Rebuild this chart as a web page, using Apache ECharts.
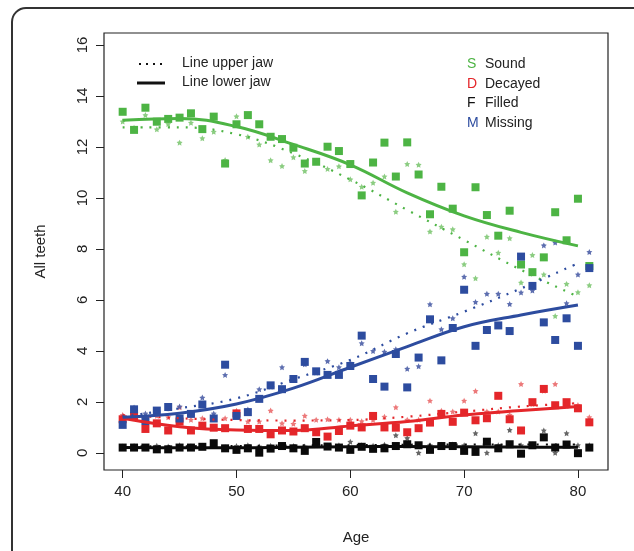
<!DOCTYPE html>
<html>
<head>
<meta charset="utf-8">
<script src="https://cdn.jsdelivr.net/npm/echarts@6.0.0/dist/echarts.min.js"></script>
<style>
  html, body { margin: 0; padding: 0; background: #fff; }
  #chartBox { width: 634px; height: 551px; }
</style>
</head>
<body>
<div id="chartBox"></div>
<script>
// ages 40..81, one point per age per series
const ages = [40,41,42,43,44,45,46,47,48,49,50,51,52,53,54,55,56,57,58,59,60,
  61,62,63,64,65,66,67,68,69,70,71,72,73,74,75,76,77,78,79,80,81];

// squares = lower jaw, stars = upper jaw
const soundLower = [13.38,12.67,13.54,12.99,13.1,13.15,13.32,12.7,13.19,11.35,12.89,13.25,12.89,12.4,12.31,11.97,11.35,11.42,12.01,11.84,11.33,10.1,11.39,12.17,10.84,12.18,10.92,9.36,10.44,9.58,7.87,10.42,9.33,8.52,9.5,7.39,7.09,7.67,9.44,8.34,9.97,7.33];
const soundUpper = [13.0,12.75,13.25,12.69,12.9,12.17,12.95,12.34,12.6,11.49,13.2,12.4,12.1,11.48,11.25,11.6,11.06,11.4,11.14,11.24,10.73,10.44,10.6,10.84,9.46,11.33,11.3,8.68,8.87,8.77,7.4,6.85,8.48,7.85,8.42,6.68,7.76,7.0,5.37,6.63,6.3,6.58];
const decayedLower = [1.32,1.45,0.94,1.16,0.88,1.23,0.88,1.07,0.99,0.97,1.55,0.94,0.94,0.73,0.88,0.84,0.97,0.81,0.64,0.86,1.07,1.0,1.45,1.0,0.99,0.81,0.97,1.19,1.53,1.22,1.58,1.28,1.36,2.24,1.32,0.88,1.99,2.51,1.87,1.99,1.75,1.2];
const decayedUpper = [1.49,1.45,1.36,1.46,1.4,1.79,1.3,1.36,1.39,1.36,1.65,1.23,1.23,1.66,1.16,1.14,1.46,1.3,1.32,1.3,1.3,1.24,1.3,1.42,1.79,1.3,1.3,2.05,1.65,1.62,2.05,2.43,1.62,1.62,1.5,2.7,1.92,2.44,2.7,1.84,1.88,1.4];
const filledLower = [0.21,0.21,0.21,0.14,0.14,0.21,0.21,0.24,0.38,0.18,0.12,0.18,0.01,0.17,0.27,0.18,0.08,0.43,0.25,0.21,0.12,0.24,0.16,0.18,0.27,0.34,0.3,0.12,0.27,0.27,0.08,0.04,0.44,0.18,0.34,-0.03,0.3,0.61,0.21,0.33,-0.01,0.21];
const filledUpper = [0.25,0.27,0.22,0.28,0.25,0.3,0.26,0.28,0.35,0.22,0.27,0.3,0.25,0.28,0.3,0.27,0.25,0.3,0.28,0.3,0.44,0.3,0.28,0.32,0.69,0.58,0.01,0.3,0.32,0.33,0.3,0.77,0.01,0.3,0.9,0.3,0.33,0.88,0.01,0.77,0.3,0.3];
const missingLower = [1.1,1.71,1.25,1.66,1.8,1.35,1.53,1.9,1.35,3.46,1.45,1.6,2.12,2.65,2.5,2.9,3.57,3.2,3.06,3.06,3.41,4.6,2.9,2.6,3.88,2.57,3.74,5.24,3.63,4.9,6.4,4.2,4.82,5.0,4.78,7.7,6.55,5.12,4.43,5.28,4.2,7.25];
const missingUpper = [1.42,1.78,1.55,1.6,1.75,1.82,1.55,2.17,1.55,3.06,1.55,1.7,2.5,2.6,3.36,2.86,3.48,3.15,3.6,3.36,3.54,4.3,4.0,3.97,4.07,3.3,3.4,5.83,4.85,5.28,6.91,5.92,6.24,6.24,5.84,6.29,6.37,8.14,8.25,5.87,7.0,7.88];

// smoothed fit lines, read every 5 years
const fitAges = [40,45,50,55,60,65,70,75,80];
const soundLowerFit = [13.05,13.12,12.8,12.1,11.3,10.2,9.3,8.65,8.12];
const soundUpperFit = [12.77,12.77,12.5,11.75,10.72,9.53,8.35,7.18,6.13];
const decayedLowerFit = [1.36,1.03,0.9,0.88,1.06,1.23,1.49,1.66,1.82];
const decayedUpperFit = [1.49,1.36,1.29,1.27,1.29,1.42,1.62,1.82,1.95];
const filledLowerFit = [0.21,0.2,0.2,0.22,0.24,0.25,0.24,0.23,0.22];
const filledUpperFit = [0.25,0.26,0.27,0.29,0.3,0.32,0.33,0.33,0.33];
const missingLowerFit = [1.4,1.56,1.92,2.54,3.36,4.17,4.95,5.41,5.8];
const missingUpperFit = [1.42,1.75,2.14,2.89,3.65,4.69,5.54,6.45,7.44];

const xTicks = [40,50,60,70,80];
const yTicks = [0,2,4,6,8,10,12,14,16];

const groups = [
  { sq: soundLower, st: soundUpper, lf: soundLowerFit, uf: soundUpperFit, c: '#4db444', cs: '#80c874' },
  { sq: decayedLower, st: decayedUpper, lf: decayedLowerFit, uf: decayedUpperFit, c: '#e4262a', cs: '#ea6a6c' },
  { sq: filledLower, st: filledUpper, lf: filledLowerFit, uf: filledUpperFit, c: '#0a0a0a', cs: '#555555' },
  { sq: missingLower, st: missingUpper, lf: missingLowerFit, uf: missingUpperFit, c: '#2d4c9f', cs: '#4b5ea6' }
];

const star = 'path://M0,-10L2.9,-4L9.5,-3.1L4.8,1.5L5.9,8.1L0,5L-5.9,8.1L-4.8,1.5L-9.5,-3.1L-2.9,-4Z';
const pair = (xs, ys) => xs.map((x, i) => [x, ys[i]]);

let series = [];
groups.forEach(g => {
  series.push({ type: 'scatter', data: pair(ages, g.st), symbol: star, symbolSize: 6,
    itemStyle: { color: g.cs, opacity: 0.9 }, z: 2 });
  series.push({ type: 'scatter', data: pair(ages, g.sq), symbol: 'rect', symbolSize: 8,
    itemStyle: { color: g.c, opacity: 1 }, z: 3 });
});
groups.forEach(g => {
  series.push({ type: 'line', data: pair(fitAges, g.uf), smooth: 0.4, showSymbol: false,
    lineStyle: { color: g.c, width: 2.2, type: [2, 7] }, z: 4 });
  series.push({ type: 'line', data: pair(fitAges, g.lf), smooth: 0.4, showSymbol: false,
    lineStyle: { color: g.c, width: 3 }, z: 5 });
});

const font = 'Liberation Sans, Arial, sans-serif';
let myChart = echarts.init(document.getElementById('chartBox'));
myChart.setOption({
  animation: false,
  backgroundColor: '#fff',
  grid: { left: 104, top: 33, right: 26, bottom: 81, show: true, borderColor: '#222', borderWidth: 1.2 },
  xAxis: {
    type: 'value', min: 38.36, max: 82.64,
    name: 'Age', nameLocation: 'middle', nameGap: 60,
    nameTextStyle: { fontFamily: font, fontSize: 15, color: '#222' },
    axisLine: { show: false, onZero: false },
    axisTick: { show: true, length: 8, customValues: xTicks, lineStyle: { color: '#222' } },
    axisLabel: { customValues: xTicks, margin: 14, fontFamily: font, fontSize: 15, color: '#222' },
    splitLine: { show: false }
  },
  yAxis: {
    type: 'value', min: -0.67, max: 16.47,
    name: 'All teeth', nameLocation: 'middle', nameGap: 56, nameRotate: 90,
    nameTextStyle: { fontFamily: font, fontSize: 15, color: '#222' },
    axisLine: { show: false, onZero: false },
    axisTick: { show: true, length: 8, customValues: yTicks, lineStyle: { color: '#222' } },
    axisLabel: { customValues: yTicks, rotate: 90, margin: 14, fontFamily: font, fontSize: 15, color: '#222' },
    splitLine: { show: false }
  },
  graphic: [
    { type: 'rect', shape: { x: 12, y: 8, width: 660, height: 620, r: 14 },
      style: { fill: 'none', stroke: '#333', lineWidth: 2 }, silent: true, z: -1 },
    { type: 'line', shape: { x1: 139, y1: 64, x2: 164, y2: 64 },
      style: { stroke: '#111', lineWidth: 2.2, lineDash: [2, 5] } },
    { type: 'line', shape: { x1: 137, y1: 83, x2: 165, y2: 83 },
      style: { stroke: '#111', lineWidth: 3 } },
    { type: 'text', left: 182, top: 56, style: { text: 'Line upper jaw', font: '14px ' + font, fill: '#222' } },
    { type: 'text', left: 182, top: 75, style: { text: 'Line lower jaw', font: '14px ' + font, fill: '#222' } },
    { type: 'text', left: 467, top: 57, style: { text: 'S', font: '14px ' + font, fill: '#4db444' } },
    { type: 'text', left: 467, top: 77, style: { text: 'D', font: '14px ' + font, fill: '#e4262a' } },
    { type: 'text', left: 467, top: 96, style: { text: 'F', font: '14px ' + font, fill: '#111' } },
    { type: 'text', left: 467, top: 116, style: { text: 'M', font: '14px ' + font, fill: '#2d4c9f' } },
    { type: 'text', left: 485, top: 57, style: { text: 'Sound', font: '14px ' + font, fill: '#222' } },
    { type: 'text', left: 485, top: 77, style: { text: 'Decayed', font: '14px ' + font, fill: '#222' } },
    { type: 'text', left: 485, top: 96, style: { text: 'Filled', font: '14px ' + font, fill: '#222' } },
    { type: 'text', left: 485, top: 116, style: { text: 'Missing', font: '14px ' + font, fill: '#222' } }
  ],
  series: series
});
</script>
</body>
</html>
